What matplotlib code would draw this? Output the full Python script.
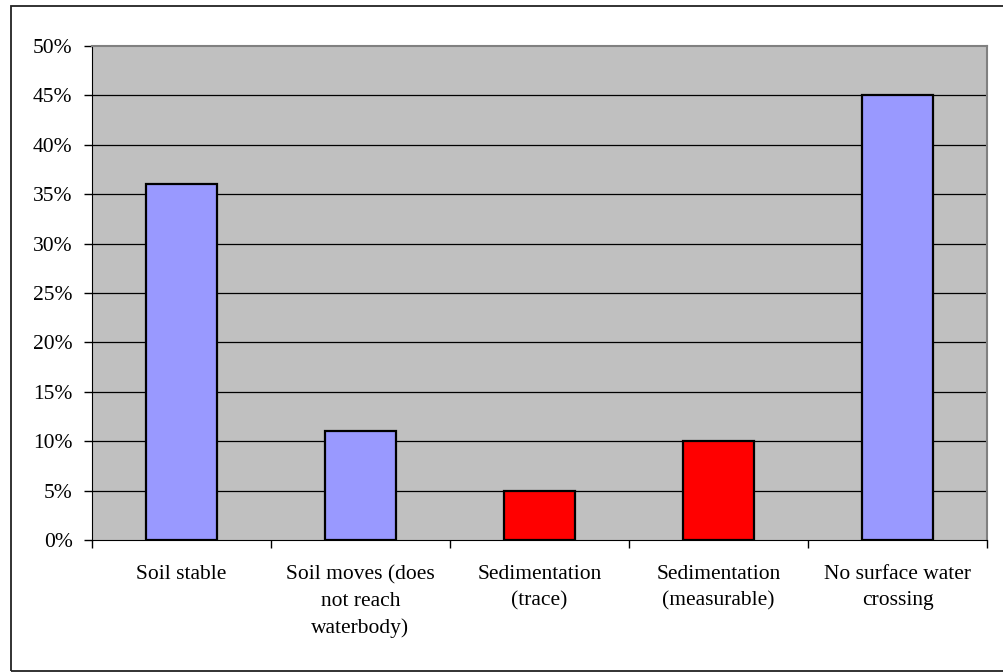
import numpy as np
import matplotlib.pyplot as plt
from matplotlib.patches import Rectangle
from matplotlib.ticker import FuncFormatter

# chart data
categories = ["Soil stable", "Soil moves (does\nnot reach\nwaterbody)", "Sedimentation\n(trace)",
              "Sedimentation\n(measurable)", "No surface water\ncrossing"]
values = [36, 11, 5, 10, 45]
colors = ["#9999FF", "#9999FF", "#FF0000", "#FF0000", "#9999FF"]
yticks = [0, 5, 10, 15, 20, 25, 30, 35, 40, 45, 50]

plt.rcParams['font.family'] = ['Liberation Serif', 'DejaVu Serif']

fig = plt.figure(figsize=(10.04, 6.72), dpi=100)
ax = fig.add_axes([92/1004, 1 - 540/672, (987-92)/1004, (540-46)/672])

# outer chart border (right edge runs off the image)
fig.patches.append(Rectangle((11/1004, 1.5/672), 1.1, (666-1.5)/672,
                             transform=fig.transFigure, fill=False, edgecolor='#222222', lw=1.3))

ax.set_facecolor('#C0C0C0')
x = np.arange(len(categories))
ax.bar(x, values, width=0.4, color=colors, edgecolor='black', linewidth=1.6, zorder=3)

ax.set_xlim(-0.5, len(categories) - 0.5)
ax.set_ylim(0, 50)
ax.set_yticks(yticks)
ax.yaxis.set_major_formatter(FuncFormatter(lambda v, p: f"{int(v)}%"))
for t in yticks[1:-1]:
    ax.axhline(t, color='black', lw=0.9, zorder=1)

ax.set_xticks(np.arange(-0.5, len(categories), 1.0))
ax.set_xticklabels([])
ax.set_xticks(x, minor=True)
ax.set_xticklabels(categories, minor=True, fontsize=15.5, linespacing=1.52)
ax.tick_params(axis='x', which='minor', length=0, pad=18)
ax.tick_params(axis='x', which='major', length=6, direction='out', width=1)
ax.tick_params(axis='y', length=6, direction='out', labelsize=15.5, width=1, pad=8)

ax.spines['top'].set_color('#808080')
ax.spines['right'].set_color('#808080')
ax.spines['top'].set_linewidth(1.5)
ax.spines['right'].set_linewidth(1.5)
ax.spines['left'].set_color('black')
ax.spines['bottom'].set_color('black')

fig.savefig('out.png', dpi=100)
